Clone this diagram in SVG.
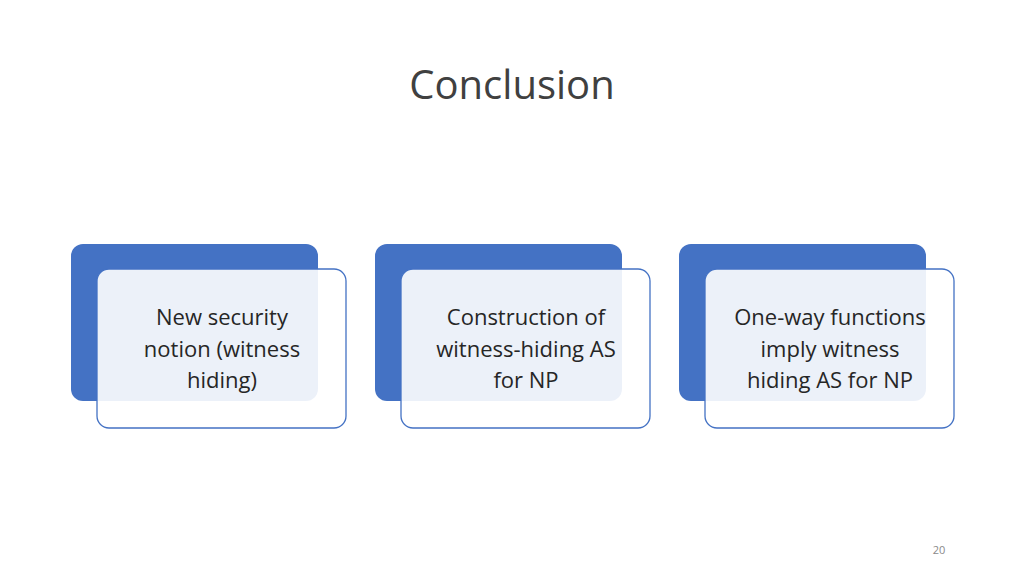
<svg xmlns="http://www.w3.org/2000/svg" width="1024" height="576" viewBox="0 0 1024 576">
<style>
.back{fill:#4472C4}
.front{fill:#ffffff;fill-opacity:0.9;stroke:#4472C4;stroke-width:1.3}
.t{font-family:"Open Sans","Liberation Sans",sans-serif;font-size:22px;fill:#262626;text-anchor:middle}
.title{font-family:"Open Sans","Liberation Sans",sans-serif;font-size:40px;fill:#404040;text-anchor:middle}
</style>
<rect width="1024" height="576" fill="#ffffff"/>
<text class="title" x="512" y="99">Conclusion</text>
<g id="node1">
<rect class="back" x="71" y="244" width="247" height="157" rx="12"/>
<rect class="front" x="97" y="269" width="249" height="159" rx="12"/>
<text class="t" x="222" y="325">New security</text>
<text class="t" x="222" y="357">notion (witness</text>
<text class="t" x="222" y="388">hiding)</text>
</g>
<g id="node2">
<rect class="back" x="375" y="244" width="247" height="157" rx="12"/>
<rect class="front" x="401" y="269" width="249" height="159" rx="12"/>
<text class="t" x="526" y="325">Construction of</text>
<text class="t" x="526" y="357">witness-hiding AS</text>
<text class="t" x="526" y="388">for NP</text>
</g>
<g id="node3">
<rect class="back" x="679" y="244" width="247" height="157" rx="12"/>
<rect class="front" x="705" y="269" width="249" height="159" rx="12"/>
<text class="t" x="830" y="325">One-way functions</text>
<text class="t" x="830" y="357">imply witness</text>
<text class="t" x="830" y="388">hiding AS for NP</text>
</g>
<g id="connectors"></g>
<text x="939" y="554" font-family="Open Sans, Liberation Sans, sans-serif" font-size="11" fill="#8a8a8a" text-anchor="middle">20</text>
</svg>
